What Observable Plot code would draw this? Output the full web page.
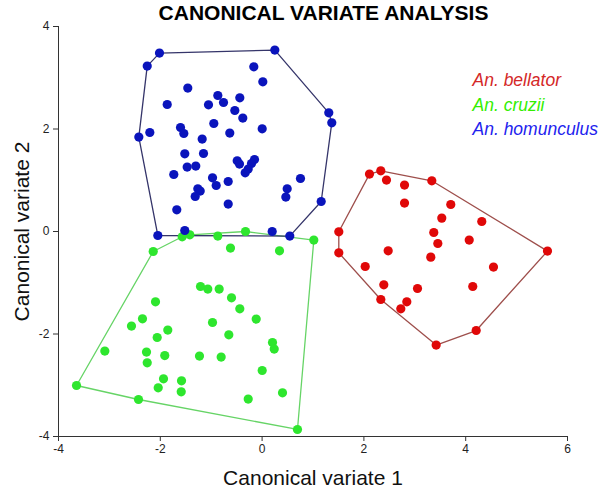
<!DOCTYPE html>
<html><head><meta charset="utf-8">
<script src="https://cdn.jsdelivr.net/npm/d3@7"></script>
<script src="https://cdn.jsdelivr.net/npm/@observablehq/plot@0.6"></script>
<style>body{margin:0;background:#fff;}</style>
</head><body><div id="chart"></div>
<script>
const title = "CANONICAL VARIATE ANALYSIS";
const xLabel = "Canonical variate 1";
const yLabel = "Canonical variate 2";
const species = ["An. bellator", "An. cruzii", "An. homunculus"];
const xTicks = [-4, -2, 0, 2, 4, 6];
const yTicks = [-4, -2, 0, 2, 4];

const bellatorX = [2.110, 2.332, 2.444, 2.798, 3.334, 2.798, 3.707, 3.530, 4.316, 3.373, 3.452, 4.069, 1.507, 1.507, 2.477, 3.314, 5.607, 2.026, 4.546, 2.391, 3.053, 4.139, 2.332, 2.843, 2.725, 4.206, 3.420];
const bellatorY = [1.120, 1.184, 1.003, 0.905, 0.989, 0.554, 0.527, 0.261, 0.195, -0.020, -0.234, -0.168, -0.006, -0.416, -0.377, -0.500, -0.382, -0.683, -0.695, -1.040, -1.112, -1.073, -1.327, -1.372, -1.508, -1.932, -2.217];

const cruziiX = [-1.570, -1.420, -0.870, -0.326, 1.016, -2.139, -0.621, 0.342, -1.210, -1.067, -0.843, -0.601, -0.438, -2.094, -2.350, -2.566, -1.853, -2.061, -0.974, -0.116, -0.654, 0.204, 0.238, -3.090, -2.271, -2.257, -1.912, -1.230, -0.804, 0.002, -1.937, -2.041, -1.583, -1.589, -3.646, -2.428, -0.273, 0.401, 0.695];
const cruziiY = [-0.103, -0.064, -0.090, 0.000, -0.168, -0.390, -0.324, -0.377, -1.073, -1.124, -1.124, -1.294, -1.508, -1.372, -1.703, -1.846, -1.924, -2.068, -1.776, -1.709, -2.016, -2.166, -2.295, -2.334, -2.353, -2.562, -2.420, -2.431, -2.451, -2.712, -2.874, -3.050, -2.913, -3.128, -3.005, -3.278, -3.270, -3.147, -3.863];

const homunculusX = [-2.016, 0.250, -2.257, -0.163, 0.014, -1.460, -1.864, -0.870, -0.758, -0.438, -1.053, -0.536, -0.379, 1.310, 1.369, -2.206, -2.422, -1.603, -1.538, -0.949, -0.635, 0.002, -1.177, -1.519, -1.151, -1.472, -1.303, -0.489, -0.444, -0.149, -0.208, -0.273, -0.332, -1.735, -0.974, -0.902, -0.666, -1.263, -1.216, -1.314, 0.754, 0.493, 0.466, 1.161, -0.666, -1.676, -2.049, -1.519, 0.198, 0.544];
const homunculusY = [3.481, 3.540, 3.227, 3.214, 2.921, 2.798, 2.478, 2.654, 2.517, 2.609, 2.472, 2.361, 2.213, 2.316, 2.121, 1.932, 1.842, 2.029, 1.912, 2.107, 1.920, 2.004, 1.803, 1.516, 1.522, 1.257, 1.276, 1.380, 1.315, 1.405, 1.327, 1.218, 1.145, 1.112, 1.048, 0.898, 0.976, 0.833, 0.788, 0.683, 1.034, 0.833, 0.671, 0.585, 0.535, 0.423, -0.078, 0.020, 0.000, -0.090];

const pointColors = ["#e00808", "#2ee62e", "#0a14bc"];
const hullColors = ["#9e4f4c", "#66d466", "#35356a"];
const legendColors = ["#d42828", "#33ee00", "#2222ee"];

const groups = [
  {name: species[0], xs: bellatorX, ys: bellatorY},
  {name: species[1], xs: cruziiX, ys: cruziiY},
  {name: species[2], xs: homunculusX, ys: homunculusY}
].map((g, i) => {
  const pts = g.xs.map((x, j) => ({x, y: g.ys[j]}));
  const hull = d3.polygonHull(pts.map(p => [p.x, p.y]));
  const hullPts = hull.map(([x, y]) => ({x, y}));
  hullPts.push(hullPts[0]);
  return {...g, pts, hullPts, i};
});

const fmt = d => String(d);

const marks = [
  Plot.ruleX([-4], {stroke: "#333", strokeWidth: 1}),
  Plot.ruleY([-4], {stroke: "#333", strokeWidth: 1}),
  Plot.axisX({ticks: xTicks, tickFormat: fmt, tickSize: 5, tickPadding: 3, fontSize: 12, label: null, stroke: "#333", color: "#222"}),
  Plot.axisY({ticks: yTicks, tickFormat: fmt, tickSize: 5, tickPadding: 4, fontSize: 12, label: null, stroke: "#333", color: "#222"})
];
for (const g of groups) {
  marks.push(Plot.line(g.hullPts, {x: "x", y: "y", stroke: hullColors[g.i], strokeWidth: 1.3, curve: "linear"}));
}
for (const g of groups) {
  marks.push(Plot.dot(g.pts, {x: "x", y: "y", fill: pointColors[g.i], r: 4.6}));
}
marks.push(
  Plot.text([title], {text: d => d, frameAnchor: "top", lineAnchor: "middle", textAnchor: "middle", dx: 10.5, dy: -13.5, fontSize: 21, fontWeight: "bold", fill: "#000"}),
  Plot.text([xLabel], {text: d => d, frameAnchor: "bottom", lineAnchor: "middle", textAnchor: "middle", dx: 0, dy: 42, fontSize: 21, fill: "#111"}),
  Plot.text([yLabel], {text: d => d, frameAnchor: "left", lineAnchor: "middle", textAnchor: "middle", rotate: -90, dx: -36, dy: 0, fontSize: 21, fill: "#111"})
);
species.forEach((s, i) => {
  marks.push(Plot.text([s], {text: d => d, frameAnchor: "top-left", lineAnchor: "middle", textAnchor: "start", dx: 414, dy: 54 + i * 24.5, fontSize: 17.5, fontStyle: "italic", fill: legendColors[i]}));
});

const chart = Plot.plot({
  width: 600,
  height: 492,
  marginLeft: 58,
  marginRight: 33,
  marginTop: 26,
  marginBottom: 56,
  x: {domain: [-4, 6]},
  y: {domain: [-4, 4]},
  style: {fontFamily: "'Liberation Sans', Arial, sans-serif", background: "#fff", overflow: "visible"},
  marks
});
document.getElementById("chart").appendChild(chart);
</script>
</body></html>
